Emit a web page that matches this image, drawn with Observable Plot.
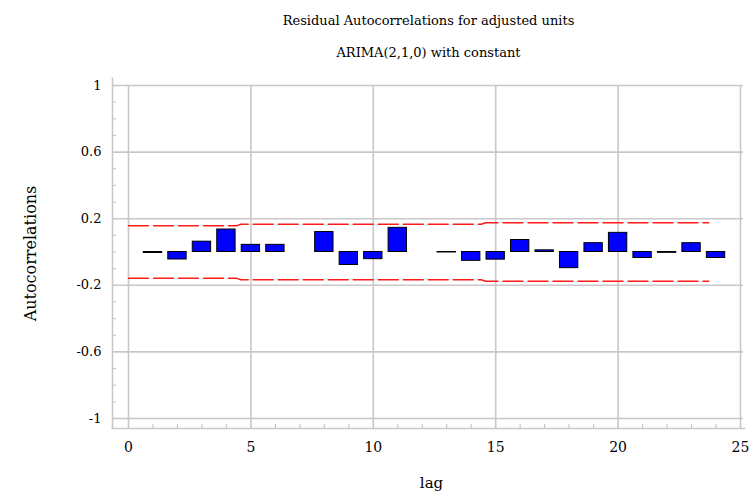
<!DOCTYPE html>
<html>
<head>
<meta charset="utf-8">
<script src="https://cdn.jsdelivr.net/npm/d3@7"></script>
<script src="https://cdn.jsdelivr.net/npm/@observablehq/plot@0.6"></script>
<style>
  html, body { margin: 0; padding: 0; background: #fff; }
</style>
</head>
<body>
<div id="chart"></div>
<script>
const titleText = "Residual Autocorrelations for adjusted units";
const subtitleText = "ARIMA(2,1,0) with constant";
const xLabel = "lag";
const yLabel = "Autocorrelations";

const lags = [1, 2, 3, 4, 5, 6, 7, 8, 9, 10, 11, 12, 13, 14, 15, 16, 17, 18, 19, 20, 21, 22, 23, 24];
const acf = [-0.006, -0.045, 0.062, 0.135, 0.043, 0.043, null, 0.12, -0.078, -0.043, 0.145, null,
             -0.003, -0.053, -0.046, 0.072, 0.01, -0.097, 0.053, 0.115, -0.036, -0.005, 0.053, -0.036];

const limitLags = [0, 4.4, 4.6, 14.4, 14.6, 23.7];
const upperLimit = [0.157, 0.157, 0.167, 0.167, 0.176, 0.176];
const lowerLimit = [-0.157, -0.157, -0.167, -0.167, -0.176, -0.176];

const xTicks = [0, 5, 10, 15, 20, 25];
const xMinorTicks = [1, 2, 3, 4, 6, 7, 8, 9, 11, 12, 13, 14, 16, 17, 18, 19, 21, 22, 23, 24];
const yTicks = [1, 0.6, 0.2, -0.2, -0.6, -1];
const yTickLabels = ["1", "0.6", "0.2", "-0.2", "-0.6", "-1"];
const yMinorTicks = [0.9, 0.8, 0.7, 0.5, 0.4, 0.3, 0.1, 0, -0.1, -0.3, -0.4, -0.5, -0.7, -0.8, -0.9];

const bars = lags.map((lag, i) => ({lag, value: acf[i]})).filter(d => d.value !== null);
const limits = [
  ...limitLags.map((lag, i) => ({lag, value: upperLimit[i], band: "upper"})),
  ...limitLags.map((lag, i) => ({lag, value: lowerLimit[i], band: "lower"}))
];

const W = 754, H = 493;
const mL = 112, mR = 10, mT = 78, mB = 65;
const plotW = W - mL - mR, plotH = H - mT - mB;
const grid = "#c8c8c8";
const font = "DejaVu Serif";

const chart = Plot.plot({
  width: W,
  height: H,
  marginLeft: mL,
  marginRight: mR,
  marginTop: mT,
  marginBottom: mB,
  style: {fontFamily: font, fontSize: "13px", background: "#fff", color: "#000"},
  x: {domain: [0, 25], insetLeft: 16, insetRight: 4},
  y: {domain: [-1, 1], insetTop: 7, insetBottom: 10},
  marks: [
    Plot.ruleX(xTicks, {x: d => d, stroke: grid, strokeWidth: 1.6, insetTop: 7}),
    Plot.ruleY(yTicks, {y: d => d, stroke: grid, strokeWidth: 1.6, insetRight: 1}),
    Plot.tickY(yMinorTicks, {y: d => d, stroke: grid, strokeWidth: 1.2, insetRight: plotW - 4}),
    Plot.tickX(xMinorTicks, {x: d => d, stroke: grid, strokeWidth: 1.2, insetTop: plotH - 4}),
    Plot.frame({anchor: "left", stroke: grid, strokeWidth: 1.6}),
    Plot.frame({anchor: "bottom", stroke: grid, strokeWidth: 1.6}),
    Plot.axisY({ticks: yTicks, tickSize: 0, tickPadding: 11, tickFormat: d => yTickLabels[yTicks.indexOf(d)], fontSize: 13, label: null}),
    Plot.axisX({ticks: xTicks, tickSize: 0, tickPadding: 14, tickFormat: d => String(d), fontSize: 14, label: null}),
    Plot.line(limits, {x: "lag", y: "value", z: "band", stroke: "#ff1a1a", strokeWidth: 1.5, strokeDasharray: "20,5"}),
    Plot.rectY(bars, {x1: d => d.lag - 0.375, x2: d => d.lag + 0.375, y1: 0, y2: "value", fill: "#0000ff", stroke: "#000", strokeWidth: 1}),
    Plot.text([titleText], {frameAnchor: "top", dy: -63, fontSize: 13, fill: "#000"}),
    Plot.text([subtitleText], {frameAnchor: "top", dy: -31, fontSize: 13, fill: "#000"}),
    Plot.text([yLabel], {frameAnchor: "left", textAnchor: "middle", rotate: -90, dx: -82, fontSize: 16, fill: "#000"}),
    Plot.text([xLabel], {frameAnchor: "bottom", dy: 59, dx: 3, fontSize: 15, fill: "#000"})
  ]
});
document.getElementById("chart").appendChild(chart);
</script>
</body>
</html>
